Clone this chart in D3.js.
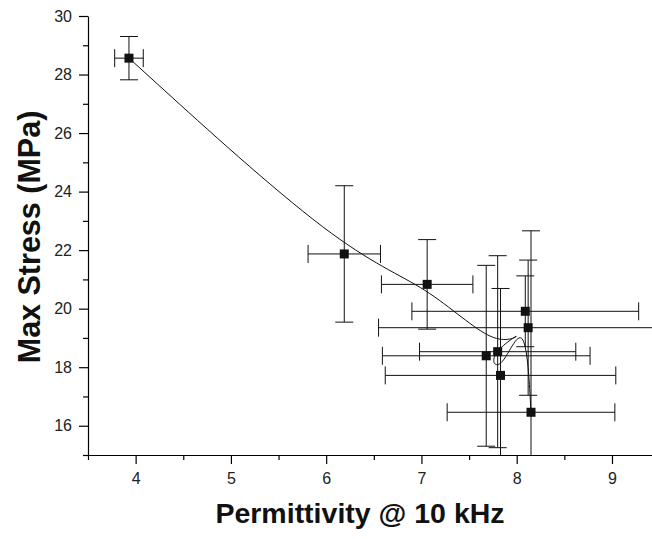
<!DOCTYPE html>
<html>
<head>
<meta charset="utf-8">
<script src="https://cdn.jsdelivr.net/npm/d3@7"></script>
<style>
  body { margin: 0; background: #fff; }
  svg { display: block; }
</style>
</head>
<body>
<svg id="chart" width="652" height="539"></svg>
<script>
// samples in the order they were plotted (the spline follows this order)
const permittivity = [3.93, 6.19, 7.06, 7.80, 8.12, 7.68, 7.83, 8.09, 8.15];
const maxStress = [28.56, 21.87, 20.83, 18.53, 19.35, 18.39, 17.72, 19.91, 16.46];
const permittivityErr = [0.15, 0.38, 0.48, 0.82, 1.57, 1.09, 1.21, 1.19, 0.88];
const maxStressErr = [0.74, 2.33, 1.53, 3.28, 2.31, 3.09, 2.97, 1.21, 6.20];

const xTicks = [4, 5, 6, 7, 8, 9];
const xMinorTicks = [3.5, 4.5, 5.5, 6.5, 7.5, 8.5];
const yTicks = [16, 18, 20, 22, 24, 26, 28, 30];
const yMinorTicks = [15, 17, 19, 21, 23, 25, 27, 29];

const width = 652, height = 539;
const margin = { top: 16, right: 0, bottom: 84, left: 88 };
const font = "'Liberation Sans', Arial, sans-serif";

const data = permittivity.map((p, i) => ({
    x: p, y: maxStress[i], ex: permittivityErr[i], ey: maxStressErr[i]
}));

const svg = d3.select('#chart');

const x = d3.scaleLinear()
    .domain([3.5, 9.42])
    .range([margin.left, width - margin.right]);

const y = d3.scaleLinear()
    .domain([15, 30])
    .range([height - margin.bottom, margin.top]);

svg.append('clipPath')
    .attr('id', 'plot-clip')
    .append('rect')
    .attr('x', margin.left)
    .attr('y', margin.top)
    .attr('width', width - margin.left - margin.right)
    .attr('height', height - margin.top - margin.bottom);

const plot = svg.append('g').attr('clip-path', 'url(#plot-clip)');

// error bars
const cap = 9;
const bars = plot.append('g')
    .attr('stroke', '#111')
    .attr('stroke-width', 1)
    .selectAll('g')
    .data(data)
    .join('g');

bars.append('line')
    .attr('x1', d => x(d.x)).attr('x2', d => x(d.x))
    .attr('y1', d => y(d.y - d.ey)).attr('y2', d => y(d.y + d.ey));
bars.append('line')
    .attr('x1', d => x(d.x) - cap).attr('x2', d => x(d.x) + cap)
    .attr('y1', d => y(d.y + d.ey)).attr('y2', d => y(d.y + d.ey));
bars.append('line')
    .attr('x1', d => x(d.x) - cap).attr('x2', d => x(d.x) + cap)
    .attr('y1', d => y(d.y - d.ey)).attr('y2', d => y(d.y - d.ey));

bars.append('line')
    .attr('x1', d => x(d.x - d.ex)).attr('x2', d => x(d.x + d.ex))
    .attr('y1', d => y(d.y)).attr('y2', d => y(d.y));
bars.append('line')
    .attr('x1', d => x(d.x - d.ex)).attr('x2', d => x(d.x - d.ex))
    .attr('y1', d => y(d.y) - cap).attr('y2', d => y(d.y) + cap);
bars.append('line')
    .attr('x1', d => x(d.x + d.ex)).attr('x2', d => x(d.x + d.ex))
    .attr('y1', d => y(d.y) - cap).attr('y2', d => y(d.y) + cap);

// smoothed connecting line
const line = d3.line()
    .x(d => x(d.x))
    .y(d => y(d.y))
    .curve(d3.curveBasis);

plot.append('path')
    .datum(data)
    .attr('fill', 'none')
    .attr('stroke', '#111')
    .attr('stroke-width', 1)
    .attr('d', line);

// markers
const size = 9;
plot.append('g')
    .attr('fill', '#111')
    .selectAll('rect')
    .data(data)
    .join('rect')
    .attr('x', d => x(d.x) - size / 2)
    .attr('y', d => y(d.y) - size / 2)
    .attr('width', size)
    .attr('height', size);

// axes
svg.append('g')
    .attr('transform', `translate(0,${y(15)})`)
    .call(d3.axisBottom(x).tickValues(xTicks).tickSize(9).tickSizeOuter(0)
        .tickPadding(9).tickFormat(d3.format('d')));

svg.append('g')
    .attr('transform', `translate(0,${y(15)})`)
    .call(d3.axisBottom(x).tickValues(xMinorTicks).tickSize(5).tickFormat(''))
    .call(g => g.select('.domain').remove());

svg.append('g')
    .attr('transform', `translate(${x(3.5)},0)`)
    .call(d3.axisLeft(y).tickValues(yTicks).tickSize(9).tickSizeOuter(0)
        .tickPadding(7).tickFormat(d3.format('d')));

svg.append('g')
    .attr('transform', `translate(${x(3.5)},0)`)
    .call(d3.axisLeft(y).tickValues(yMinorTicks).tickSize(5).tickFormat(''))
    .call(g => g.select('.domain').remove());

svg.selectAll('.tick line, .domain').attr('stroke', '#000').attr('stroke-width', 1.2);
svg.selectAll('.tick text')
    .attr('font-family', font)
    .attr('font-size', 16)
    .attr('fill', '#222');

// axis titles
svg.append('text')
    .attr('x', 360)
    .attr('y', 523)
    .attr('text-anchor', 'middle')
    .attr('font-family', font)
    .attr('font-size', 28.5)
    .attr('font-weight', 'bold')
    .attr('fill', '#111')
    .text('Permittivity @ 10 kHz');

svg.append('text')
    .attr('transform', 'rotate(-90)')
    .attr('x', -237)
    .attr('y', 40)
    .attr('text-anchor', 'middle')
    .attr('font-family', font)
    .attr('font-size', 30.5)
    .attr('font-weight', 'bold')
    .attr('fill', '#111')
    .text('Max Stress (MPa)');
</script>
</body>
</html>
